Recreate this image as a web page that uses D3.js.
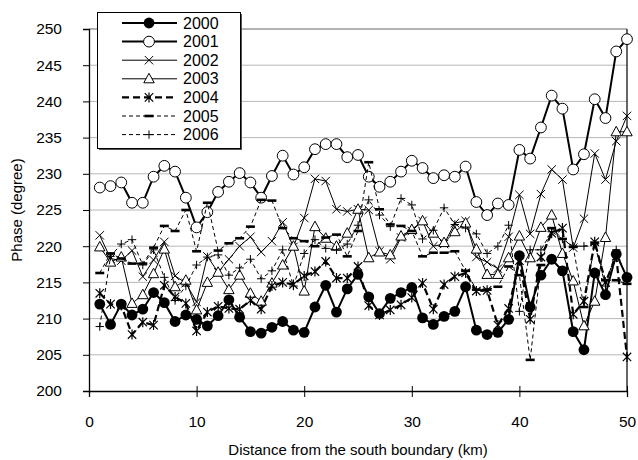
<!DOCTYPE html>
<html><head><meta charset="utf-8">
<script src="https://cdn.jsdelivr.net/npm/d3@7"></script>
<style>body{margin:0;background:#fff}svg{display:block}text{font-family:"Liberation Sans",Arial,sans-serif}</style>
</head><body>
<script>
const xValues = d3.range(1, 51);
const years = ["2000","2001","2002","2003","2004","2005","2006"];
const s2000 = [212.0,209.2,212.0,210.5,211.3,213.6,212.2,209.6,210.5,209.9,209.0,210.4,212.6,210.2,208.2,208.0,208.8,209.6,208.4,208.1,211.6,214.6,210.9,214.1,216.1,213.0,210.7,212.8,213.6,214.3,210.1,209.2,210.3,211.0,214.4,208.4,207.8,208.1,209.9,218.7,211.6,216.0,218.2,216.6,208.2,205.7,216.3,213.3,218.9,215.7];
const s2001 = [228.1,228.3,228.8,226.0,226.0,229.6,231.1,230.3,226.7,222.6,224.7,227.5,228.9,230.1,228.8,226.7,229.7,232.5,229.9,230.9,233.4,234.1,234.1,232.3,232.6,229.6,228.2,228.9,230.3,231.8,230.8,229.4,229.8,229.6,231.0,226.1,224.3,225.9,225.7,233.3,232.1,236.4,240.8,239.0,230.6,232.7,240.3,237.7,246.9,248.6];
const s2002 = [221.5,218.3,218.0,219.4,215.8,218.1,220.6,215.9,214.9,212.3,218.6,216.4,218.2,220.0,221.3,219.2,220.7,223.3,219.9,223.9,229.3,229.0,225.1,224.8,225.1,225.0,219.3,218.2,221.2,222.1,223.5,220.0,220.3,223.2,223.5,218.5,217.8,216.9,221.3,227.1,221.7,227.2,230.6,229.2,219.8,223.8,232.8,229.2,234.5,238.0];
const s2003 = [219.9,217.8,218.5,212.1,213.3,216.2,219.6,214.4,215.3,211.2,215.0,216.4,214.0,216.0,213.5,212.4,214.9,217.4,220.0,213.8,222.7,221.1,220.0,221.8,225.1,218.4,219.2,218.8,221.4,222.3,223.5,221.8,220.5,222.0,223.2,219.6,216.1,216.1,218.4,221.4,218.4,222.6,224.3,219.0,215.2,209.0,212.4,221.2,235.8,235.8];
const s2004 = [213.5,212.0,211.8,207.8,209.5,209.1,214.6,213.0,212.1,208.3,210.9,211.7,211.4,211.3,212.5,211.3,214.5,215.0,214.7,215.9,216.5,217.9,215.6,215.6,217.2,211.8,210.5,211.2,211.9,212.9,214.9,211.3,214.7,215.8,216.3,213.8,213.9,209.1,211.4,218.0,209.9,218.5,221.8,222.5,210.6,212.4,220.6,215.0,218.6,204.7];
const s2005 = [216.3,219.0,218.3,217.6,217.6,219.8,222.8,222.1,225.0,219.3,226.0,219.4,220.4,221.1,222.7,226.4,226.3,222.5,221.1,220.7,220.0,221.2,221.6,218.6,222.1,231.6,225.1,223.0,222.8,222.1,218.6,219.1,219.1,219.3,216.6,214.0,214.0,214.4,217.2,216.0,204.3,217.4,222.5,221.0,219.9,211.6,220.5,215.3,215.3,214.8];
const s2006 = [208.9,218.6,220.3,220.9,217.4,219.5,215.7,212.5,214.5,217.4,218.5,218.8,216.0,217.0,218.2,215.5,216.6,219.5,214.5,219.0,220.9,219.7,219.5,220.3,222.9,226.4,224.3,222.7,226.6,225.7,221.0,222.2,225.3,223.0,222.5,221.7,219.0,220.0,222.9,211.0,219.5,219.5,222.0,221.0,220.0,220.0,220.3,214.5,219.5,215.3];
const yTicks = [200,205,210,215,220,225,230,235,240,245,250];
const xTicks = [0,10,20,30,40,50];
const xTitle = "Distance from the south boundary (km)";
const yTitle = "Phase (degree)";

const seriesValues = [s2000,s2001,s2002,s2003,s2004,s2005,s2006];
const styles = [
  {w:2, dash:null, m:"fcircle"},
  {w:2, dash:null, m:"ocircle"},
  {w:1, dash:null, m:"x"},
  {w:1, dash:null, m:"tri"},
  {w:2.2, dash:"7,4", m:"ast"},
  {w:1, dash:"4,3", m:"dash"},
  {w:1, dash:"4,3", m:"plus"}
];

const W = 638, H = 460;
const svg = d3.select("body").append("svg").attr("width", W).attr("height", H);
const x = d3.scaleLinear().domain([0,50]).range([89,627]);
const y = d3.scaleLinear().domain([200,250]).range([391,29]);

// gridlines
svg.append("g").selectAll("line").data(yTicks.filter(t => t>200 && t<250)).join("line")
  .attr("x1", x(0)).attr("x2", x(50)).attr("y1", d=>y(d)).attr("y2", d=>y(d))
  .attr("stroke", "#b8b8b8").attr("stroke-width", 1);
// frame top and right
svg.append("line").attr("x1", x(0)).attr("x2", x(50)).attr("y1", y(250)).attr("y2", y(250)).attr("stroke","#666").attr("stroke-width",1.2);
svg.append("line").attr("x1", x(50)).attr("x2", x(50)).attr("y1", y(250)).attr("y2", y(200)).attr("stroke","#000").attr("stroke-width",1.2);

// axes
const yAxis = d3.axisLeft(y).tickValues(yTicks).tickSize(6).tickPadding(21).tickFormat(d3.format("d"));
const gy = svg.append("g").attr("transform", `translate(${x(0)},0)`).call(yAxis);
gy.select(".domain").attr("stroke","#000").attr("stroke-width",1.3);
gy.selectAll(".tick line").attr("stroke","#000");
gy.selectAll("text").attr("font-size", 15.5).attr("fill","#000").attr("font-family",'"Liberation Sans",Arial,sans-serif');

const xAxis = d3.axisBottom(x).tickValues(xTicks).tickSize(6).tickPadding(19).tickFormat(d3.format("d"));
const gx = svg.append("g").attr("transform", `translate(0,${y(200)})`).call(xAxis);
gx.select(".domain").attr("stroke","#000").attr("stroke-width",1.3);
gx.selectAll(".tick line").attr("stroke","#000").attr("y1",-5);
gx.selectAll("text").attr("font-size", 15.5).attr("fill","#000").attr("font-family",'"Liberation Sans",Arial,sans-serif');

svg.append("text").attr("x", 358).attr("y", 455).attr("text-anchor","middle").attr("font-size",15).text(xTitle);
svg.append("text").attr("transform","translate(22,210) rotate(-90)").attr("text-anchor","middle").attr("font-size",15).text(yTitle);

function marker(g, type, cx, cy) {
  const s = 4.2;
  if (type === "fcircle") g.append("circle").attr("cx",cx).attr("cy",cy).attr("r",5.4).attr("fill","#000");
  else if (type === "ocircle") g.append("circle").attr("cx",cx).attr("cy",cy).attr("r",5.4).attr("fill","#fff").attr("stroke","#000").attr("stroke-width",1);
  else if (type === "x") {
    g.append("path").attr("d",`M${cx-s},${cy-s}L${cx+s},${cy+s}M${cx-s},${cy+s}L${cx+s},${cy-s}`).attr("stroke","#000").attr("stroke-width",1);
  } else if (type === "tri") {
    g.append("path").attr("d",`M${cx},${cy-5.5}L${cx+5.2},${cy+4}L${cx-5.2},${cy+4}Z`).attr("fill","#fff").attr("stroke","#000").attr("stroke-width",1);
  } else if (type === "ast") {
    g.append("path").attr("d",`M${cx-s},${cy-s}L${cx+s},${cy+s}M${cx-s},${cy+s}L${cx+s},${cy-s}M${cx},${cy-5}L${cx},${cy+5}`).attr("stroke","#000").attr("stroke-width",1.2);
  } else if (type === "dash") {
    g.append("path").attr("d",`M${cx-4.5},${cy}L${cx+4.5},${cy}`).attr("stroke","#000").attr("stroke-width",2.6);
  } else if (type === "plus") {
    g.append("path").attr("d",`M${cx-4.2},${cy}L${cx+4.2},${cy}M${cx},${cy-4.2}L${cx},${cy+4.2}`).attr("stroke","#000").attr("stroke-width",1);
  }
}

const line = d3.line().x((d,i)=>x(xValues[i])).y(d=>y(d));
seriesValues.forEach((vals, k) => {
  const st = styles[k];
  const g = svg.append("g");
  g.append("path").datum(vals).attr("d", line).attr("fill","none").attr("stroke","#000")
    .attr("stroke-width", st.w).attr("stroke-dasharray", st.dash);
  vals.forEach((v,i) => marker(g, st.m, x(xValues[i]), y(v)));
});

// legend
const lg = svg.append("g");
lg.append("rect").attr("x",99).attr("y",14).attr("width",143).attr("height",136).attr("fill","#555");
lg.append("rect").attr("x",97.5).attr("y",12.5).attr("width",143).attr("height",136).attr("fill","#fff").attr("stroke","#000").attr("stroke-width",1);
years.forEach((yr,k) => {
  const st = styles[k];
  const cy = 23 + k*18.6;
  lg.append("line").attr("x1",122).attr("x2",177).attr("y1",cy).attr("y2",cy).attr("stroke","#000")
    .attr("stroke-width", st.w).attr("stroke-dasharray", st.dash);
  marker(lg, st.m, 149, cy);
  lg.append("text").attr("x",183).attr("y",cy+5.5).attr("font-size",16).text(yr);
});
</script>
</body></html>
